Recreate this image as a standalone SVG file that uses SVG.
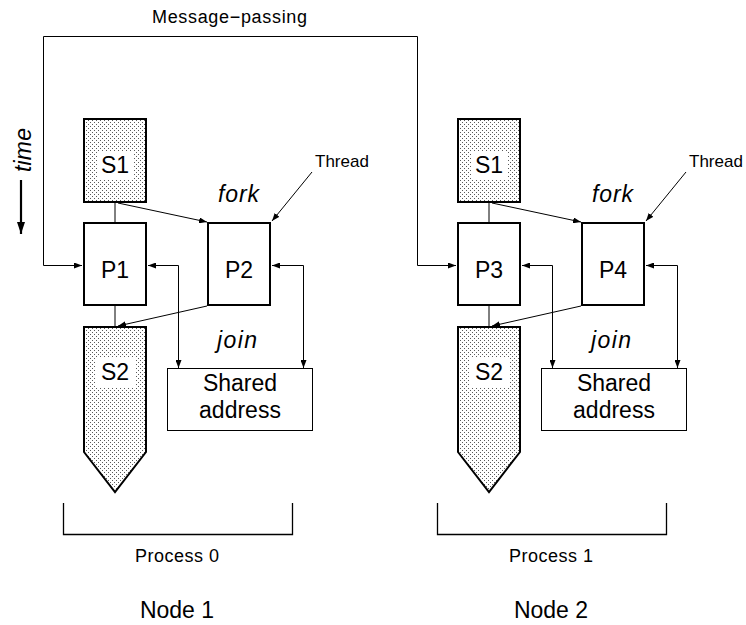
<svg xmlns="http://www.w3.org/2000/svg" width="746" height="625" viewBox="0 0 746 625">
  <defs>
    <pattern id="stipple" width="4" height="4" patternUnits="userSpaceOnUse">
      <rect width="4" height="4" fill="#ffffff"/>
      <rect x="0" y="0" width="1" height="1" fill="#5a5a5a"/>
      <rect x="2" y="2" width="1" height="1" fill="#5a5a5a"/>
    </pattern>
    <marker id="arrow" viewBox="0 0 8 6" refX="8" refY="3" markerWidth="8" markerHeight="6" markerUnits="userSpaceOnUse" orient="auto-start-reverse">
      <path d="M0,0 L8,3 L0,6 z" fill="#000"/>
    </marker>
    <marker id="bigArrow" viewBox="0 0 8 12" refX="4" refY="12" markerWidth="8" markerHeight="12" markerUnits="userSpaceOnUse" orient="0">
      <path d="M0,0 L8,0 L4,12 z" fill="#000"/>
    </marker>
  </defs>
  <style>
    text { font-family: "Liberation Sans", Arial, sans-serif; fill: #000; }
    .box { fill: #ffffff; stroke: #000; stroke-width: 2; }
    .seq { fill: url(#stipple); stroke: #000; stroke-width: 2; }
    .mem { fill: #ffffff; stroke: #000; stroke-width: 1; }
    .lbl { font-size: 23px; text-anchor: middle; }
    .it { font-size: 23px; font-style: italic; }
    .small { font-size: 17px; }
    .proc { font-size: 18px; text-anchor: middle; }
    .conn { fill: none; stroke: #000; stroke-width: 1; }
    .bracket { fill: none; stroke: #000; stroke-width: 1.3; }
  </style>

  <!-- title of the message channel -->
  <text x="152" y="23" font-size="18" textLength="155" lengthAdjust="spacing">Message−passing</text>

  <!-- time axis -->
  <g id="time-axis">
    <text class="it" font-size="22" transform="translate(31,172) rotate(-90)" textLength="44" lengthAdjust="spacing">time</text>
    <line x1="21" y1="180" x2="21" y2="234" stroke="#000" stroke-width="2.2" marker-end="url(#bigArrow)"/>
  </g>

  <!-- Node 1 -->
  <g id="node1-s1">
    <rect class="seq" x="84" y="119" width="62" height="83"/>
    <rect x="97" y="152" width="36" height="27" fill="#fff"/>
    <text class="lbl" x="115" y="173">S1</text>
  </g>
  <g id="node1-p1">
    <rect class="box" x="84" y="223" width="62" height="82"/>
    <text class="lbl" x="115" y="278">P1</text>
  </g>
  <g id="node1-p2">
    <rect class="box" x="208" y="223" width="62" height="82"/>
    <text class="lbl" x="239" y="278">P2</text>
  </g>
  <g id="node1-s2">
    <polygon class="seq" points="84,327 146,327 146,452 115,492 84,452"/>
    <rect x="96" y="358" width="40" height="29" fill="#fff"/>
    <text class="lbl" x="115" y="380">S2</text>
  </g>
  <g id="node1-shared">
    <rect class="mem" x="167.5" y="368.5" width="145" height="62"/>
    <text class="lbl" x="240" y="391">Shared</text>
    <text class="lbl" x="240" y="418">address</text>
  </g>
  <g id="node1-labels">
    <text class="it" x="218" y="202" textLength="41" lengthAdjust="spacing">fork</text>
    <text class="it" x="217" y="348" textLength="40" lengthAdjust="spacing">join</text>
    <text class="small" x="315" y="167">Thread</text>
  </g>
  <g id="process0">
    <path class="bracket" d="M63.5,503 V534.5 H292.5 V503"/>
    <text class="proc" x="177" y="562" textLength="84" lengthAdjust="spacing">Process 0</text>
    <text class="lbl" x="177" y="618">Node 1</text>
  </g>

  <!-- Node 2 -->
  <g id="node2-s1">
    <rect class="seq" x="458" y="119" width="62" height="83"/>
    <rect x="471" y="152" width="36" height="27" fill="#fff"/>
    <text class="lbl" x="489" y="173">S1</text>
  </g>
  <g id="node2-p3">
    <rect class="box" x="458" y="223" width="62" height="82"/>
    <text class="lbl" x="489" y="278">P3</text>
  </g>
  <g id="node2-p4">
    <rect class="box" x="582" y="223" width="62" height="82"/>
    <text class="lbl" x="613" y="278">P4</text>
  </g>
  <g id="node2-s2">
    <polygon class="seq" points="458,327 520,327 520,452 489,492 458,452"/>
    <rect x="470" y="358" width="40" height="29" fill="#fff"/>
    <text class="lbl" x="489" y="380">S2</text>
  </g>
  <g id="node2-shared">
    <rect class="mem" x="541.5" y="368.5" width="145" height="62"/>
    <text class="lbl" x="614" y="391">Shared</text>
    <text class="lbl" x="614" y="418">address</text>
  </g>
  <g id="node2-labels">
    <text class="it" x="592" y="202" textLength="41" lengthAdjust="spacing">fork</text>
    <text class="it" x="591" y="348" textLength="40" lengthAdjust="spacing">join</text>
    <text class="small" x="689" y="167">Thread</text>
  </g>
  <g id="process1">
    <path class="bracket" d="M437.5,503 V534.5 H666.5 V503"/>
    <text class="proc" x="551" y="562" textLength="84" lengthAdjust="spacing">Process 1</text>
    <text class="lbl" x="551" y="618">Node 2</text>
  </g>

  <!-- connectors -->
  <g id="connectors">
    <!-- message passing between P1 and P3 -->
    <path class="conn" d="M82,265.5 H43.5 V36.5 H417.5 V265.5 H456" marker-start="url(#arrow)" marker-end="url(#arrow)"/>

    <!-- node 1 -->
    <line class="conn" x1="115" y1="202" x2="115" y2="223"/>
    <line class="conn" x1="115" y1="305" x2="115" y2="327"/>
    <line class="conn" x1="118" y1="203" x2="207" y2="222" marker-end="url(#arrow)"/>
    <line class="conn" x1="207" y1="306" x2="118" y2="326" marker-end="url(#arrow)"/>
    <line class="conn" x1="312" y1="172" x2="272" y2="221" marker-end="url(#arrow)"/>
    <path class="conn" d="M148,265.5 H178.5 V368" marker-start="url(#arrow)" marker-end="url(#arrow)"/>
    <path class="conn" d="M272,265.5 H303.5 V368" marker-start="url(#arrow)" marker-end="url(#arrow)"/>

    <!-- node 2 -->
    <line class="conn" x1="489" y1="202" x2="489" y2="223"/>
    <line class="conn" x1="489" y1="305" x2="489" y2="327"/>
    <line class="conn" x1="492" y1="203" x2="581" y2="222" marker-end="url(#arrow)"/>
    <line class="conn" x1="581" y1="306" x2="492" y2="326" marker-end="url(#arrow)"/>
    <line class="conn" x1="686" y1="172" x2="646" y2="221" marker-end="url(#arrow)"/>
    <path class="conn" d="M522,265.5 H552.5 V368" marker-start="url(#arrow)" marker-end="url(#arrow)"/>
    <path class="conn" d="M646,265.5 H677.5 V368" marker-start="url(#arrow)" marker-end="url(#arrow)"/>
  </g>
</svg>
